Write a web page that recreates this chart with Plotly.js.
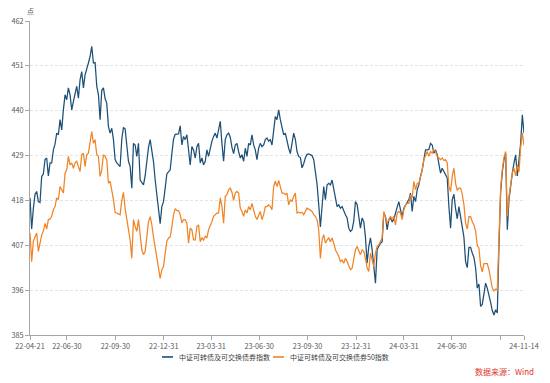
<!DOCTYPE html>
<html>
<head>
<meta charset="utf-8">
<script src="https://cdn.plot.ly/plotly-3.0.1.min.js"></script>
<style>
html,body{margin:0;padding:0;background:#fff;}
#chart{width:550px;height:383px;}
</style>
</head>
<body>
<div id="chart"></div>
<script>
const startDate = '2022-04-21';
const endDate = '2024-11-14';

const seriesNames = ['中证可转债及可交换债券指数', '中证可转债及可交换债券50指数'];
const seriesColors = ['#1d5077', '#f08426'];

const convIndex = [
  418.6, 411, 416, 419.5, 420.2, 417.7, 417.5, 423.9, 424.5, 428,
  428.4, 424, 427.2, 427.2, 430.4, 431.8, 434.5, 434.1, 437.8, 435.3,
  440.2, 443.9, 442.7, 445.6, 443.9, 440.2, 442.2, 443.9, 446, 443.1,
  447.6, 449.6, 445.6, 448.8, 450, 451.7, 453.3, 455.8, 451.7, 451.8,
  446, 443.9, 437.8, 445, 445.6, 443, 441.8, 436.1, 434.5, 435.7,
  432.9, 428, 427.2, 426.7, 426.3, 433, 435.9, 435.5, 432,
  427.6, 426.3, 421, 432, 431.6, 428.8, 432, 423, 422.2, 421.8,
  424, 428, 431, 432.9, 430, 427.5, 423, 419.5, 415.5, 412.3,
  416.5, 417.7, 421, 424.5, 425, 425.5, 429.5, 433, 434.2, 434.2,
  434.3, 436.3, 431.6, 433.7, 432.9, 434.1, 429.6, 426.7, 431.2, 430.4,
  428.4, 431.2, 432, 427.2, 428.4, 426.7, 427.6, 430.4, 428.8, 430.8,
  432.5, 433.7, 434.5, 433.3, 435.7, 437.4, 432, 427.6, 432.9, 434.1,
  434.5, 433.5, 431, 429.5, 431.6, 432, 430, 428.4, 429.2, 427.6,
  430.8, 428.8, 432, 431.6, 434.1, 431.6, 430.4, 428, 430.8, 432,
  431.2, 431.6, 432.9, 433.3, 432.5, 432.9, 431.6, 435.7, 438.6, 437.8,
  440.2, 437.8, 435.7, 434.1, 434.5, 432.5, 430.8, 429.5, 432.5, 434.5,
  433, 430, 428.8, 428.5, 426, 427, 428.5, 429.3, 429.4, 429.2,
  429, 428, 425.5, 422, 417, 411.5, 416.5, 421.4, 418.2, 421.8,
  422.2, 421.8, 423, 421, 419, 416.5, 416.9, 416.1, 416.5, 415.7,
  414.5, 413.7, 411.2, 410.4, 410.8, 413, 417.7, 417, 414.1, 411.2,
  413.7, 412.8, 409, 402.6, 406.7, 408.8, 405.9, 401.4, 397.7, 406,
  406.8, 407.5, 407.9, 414.9, 414.1, 410.8, 413.3, 413.7, 412.8, 413.3,
  414.9, 416.1, 417.7, 415.7, 414.1, 416.1, 416.9, 417.3, 418.2, 419.8,
  415.3, 419, 417.7, 420.6, 421.8, 423.9, 425.5, 428, 430.4, 430.4,
  430.5, 432, 431.6, 429.6, 430.4, 429.2, 427.2, 424.7, 425.9, 425.1,
  424.7, 423.5, 416.5, 411.2, 418.2, 419.5, 416, 413.5, 416.5, 414,
  411, 409, 403, 401.5, 406.5, 406.5, 405.1, 404, 401.5, 396.5,
  397.5, 392, 392.5, 395.3, 397.7, 396.5, 395, 393, 391, 389.9,
  391.2, 390.4, 407, 420, 425, 428, 429.6, 410.8, 418.2, 422.2,
  424.7, 427.2, 429.2, 424, 428.5, 432, 439, 434.5
];

const conv50Index = [
  410, 403, 408, 409.2, 410, 405.5, 408, 409.5, 410.5, 412.4,
  411, 413.3, 413.4, 414.1, 415.7, 416.5, 418.6, 418.2, 421.4, 420.6,
  419.8, 424.7, 425.5, 428.8, 426.7, 427.2, 425.9, 427.2, 427.6, 426.3,
  425.1, 429.2, 429.6, 426.3, 429.2, 429.6, 432, 434.9, 432, 432.9,
  429.2, 428.8, 423.9, 425.5, 429.2, 428.8, 428, 422.2, 422.7, 420.6,
  418.2, 415.1, 414.9, 414.8, 414.5, 418, 420, 416, 413.5,
  410.4, 408.3, 403.8, 413.3, 411.6, 410.4, 413.3, 410, 405.9, 404.7,
  405.5, 409, 412.8, 414, 412, 409, 406.5, 404, 400.5, 398.9,
  401, 401.8, 405, 408, 408.8, 409, 411.5, 414.5, 416, 415.5,
  415.5, 414.5, 412.5, 413.3, 413.3, 412.4, 407.5, 411.2, 410.8, 408.3,
  408.3, 411.6, 412, 407.9, 408.8, 408.3, 409.2, 408.8, 410.8, 411.6,
  412.8, 414.1, 414.5, 414.9, 414.9, 418.6, 416.5, 412.4, 419, 419.4,
  420.6, 421, 420, 418, 419.8, 420.2, 419.8, 416.1, 415.3, 414.1,
  415.7, 414.9, 416.5, 415.7, 417.3, 415.7, 414.1, 413.3, 414.1, 415.3,
  413.3, 414.5, 416.5, 416.5, 416.9, 416.5, 415.7, 421.4, 422.7, 421.4,
  422.9, 421.4, 419.8, 419.8, 419.4, 419.8, 416.9, 418.2, 417.7, 419,
  419.8, 414.9, 415.1, 414.9, 415.1, 414.5, 415.3, 416.1, 415.9, 415.7,
  415.3, 414.5, 414.1, 413.3, 410.8, 403.8, 408.3, 409.6, 407.5, 408.3,
  408.8, 407.9, 408.8, 407.5, 405.9, 405.1, 404.3, 403, 403.4, 402.6,
  403.8, 403, 401.8, 401, 401.4, 403.4, 405.9, 406.7, 405.5, 404.7,
  405.9, 405.5, 403.8, 401.4, 400.6, 405.1, 403.4, 401.8, 405.1, 406.7,
  407.1, 407.9, 408.8, 415.3, 413.7, 412.4, 413.3, 414.1, 413.3, 414.1,
  412, 414.9, 415.3, 414.9, 413.3, 415.7, 416.9, 417.3, 417.3, 419.4,
  418.6, 422.7, 420.6, 422.2, 422.2, 423.9, 425.5, 428, 428.8, 430,
  428.8, 430, 429.6, 430.4, 430, 428.8, 428.4, 428, 428.4, 427.8,
  428, 427.2, 421.4, 420.2, 423.9, 425.9, 422.2, 420.5, 421, 421,
  419.5, 417, 412.5, 411, 414, 414, 412.8, 412, 410.5, 407,
  406.3, 402, 400.5, 402.5, 402.5, 402.5, 401, 398.5, 396.5, 395.8,
  396.3, 396.1, 407, 421, 425.5, 428.5, 430, 414.1, 419, 422.2,
  424.7, 425.9, 424, 426.7, 425, 431, 434.5, 431.5
];

const xTickVals = ['2022-04-21','2022-06-30','2022-09-30','2022-12-31','2023-03-31','2023-06-30',
                   '2023-09-30','2023-12-31','2024-03-31','2024-06-30','2024-09-30','2024-11-14'];
const xTickText = ['22-04-21','22-06-30','22-09-30','22-12-31','23-03-31','23-06-30',
                   '23-09-30','23-12-31','24-03-31','24-06-30','','24-11-14'];
const yTickVals = [385, 396, 407, 418, 429, 440, 451, 462];

const spanMs = Date.parse(endDate) - Date.parse(startDate);
const dxMs = spanMs / (convIndex.length - 1);

const FONT = '"Microsoft YaHei", "Noto Sans CJK SC", "Noto Sans", sans-serif';

const traces = [
  {
    type: 'scatter', mode: 'lines', name: seriesNames[0],
    x0: startDate, dx: dxMs, y: convIndex,
    line: {color: seriesColors[0], width: 1.25}
  },
  {
    type: 'scatter', mode: 'lines', name: seriesNames[1],
    x0: startDate, dx: dxMs, y: conv50Index,
    line: {color: seriesColors[1], width: 1.25}
  }
];

// legend (drawn as key swatches + labels below the plot)
const legendY = -0.07;
const legendKeys = [
  {x0: 0.2672, x1: 0.2895, tx: 0.2976},
  {x0: 0.4919, x1: 0.5142, tx: 0.5223}
];
const shapes = legendKeys.map((k, i) => ({
  type: 'line', xref: 'paper', yref: 'paper', x0: k.x0, x1: k.x1, y0: legendY, y1: legendY,
  line: {color: seriesColors[i], width: 1.6}
}));
const legendLabels = legendKeys.map((k, i) => ({
  text: seriesNames[i], xref: 'paper', yref: 'paper', x: k.tx, y: legendY,
  xanchor: 'left', yanchor: 'middle', showarrow: false,
  font: {family: FONT, size: 7, color: '#404040'}
}));

const layout = {
  width: 550, height: 383,
  margin: {l: 30, r: 26, t: 21, b: 48},
  paper_bgcolor: '#ffffff', plot_bgcolor: '#ffffff',
  font: {family: FONT, size: 7, color: '#595959'},
  showlegend: false,
  xaxis: {
    type: 'date',
    range: [startDate, endDate],
    tickmode: 'array', tickvals: xTickVals, ticktext: xTickText,
    showgrid: false, zeroline: false,
    showline: true, linecolor: '#a6a6a6', linewidth: 1,
    ticks: 'outside', ticklen: 4, tickcolor: '#a6a6a6',
    tickfont: {family: FONT, size: 7.3, color: '#595959'}
  },
  yaxis: {
    range: [385, 462],
    tickmode: 'array', tickvals: yTickVals,
    showgrid: true, gridcolor: '#e3e3e3', griddash: '3px,2px', gridwidth: 1,
    zeroline: false,
    showline: true, linecolor: '#a6a6a6', linewidth: 1,
    ticks: 'outside', ticklen: 4, tickcolor: '#a6a6a6',
    tickfont: {family: FONT, size: 7.3, color: '#595959'}
  },
  shapes: shapes,
  annotations: [
    {text: '点', xref: 'paper', yref: 'paper', x: 0, y: 1, xanchor: 'center', yanchor: 'bottom',
     yshift: 3, showarrow: false, font: {family: FONT, size: 7, color: '#595959'}},
    {text: '数据来源：Wind', xref: 'paper', yref: 'paper', x: 1, y: 0, xanchor: 'right', yanchor: 'middle',
     xshift: 12, yshift: -36, showarrow: false, font: {family: FONT, size: 8, color: '#e0352b'}}
  ].concat(legendLabels)
};

Plotly.newPlot('chart', traces, layout, {displayModeBar: false, staticPlot: true});
</script>
</body>
</html>
